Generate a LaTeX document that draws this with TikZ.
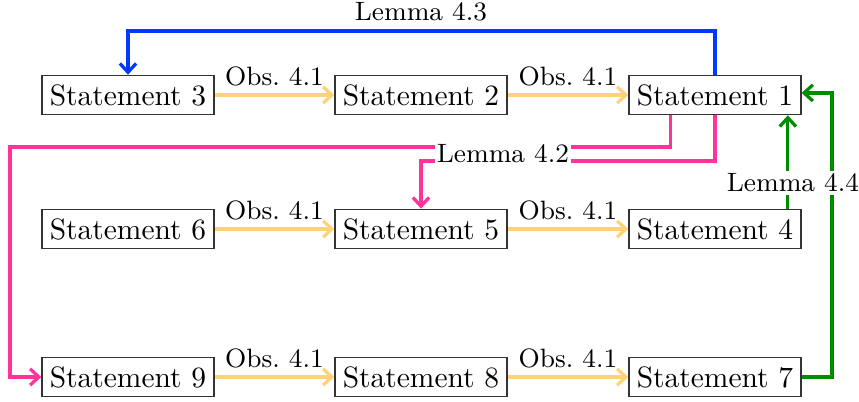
\documentclass[tikz,border=0pt]{standalone}
\usetikzlibrary{arrows.meta}
\definecolor{obsc}{RGB}{255,210,122}
\definecolor{pinkc}{RGB}{255,51,153}
\definecolor{greenc}{RGB}{0,140,0}
\definecolor{bluec}{RGB}{0,56,255}
\tikzset{
  sbox/.style={draw=black!80, line width=0.5pt, inner xsep=2.6pt, inner ysep=3pt, font=\normalsize},
  lbl/.style={font=\small},
  wlbl/.style={font=\small, fill=white, inner sep=0.8pt},
  tip/.style={-{Straight Barb[length=3pt,width=5.5pt]}},
  obsarrow/.style={draw=obsc, line width=1.1pt, tip},
  pinkarrow/.style={draw=pinkc, line width=1.1pt, tip},
  greenarrow/.style={draw=greenc, line width=1.1pt, tip},
  bluearrow/.style={draw=bluec, line width=1.1pt, tip},
}
\begin{document}
\begin{tikzpicture}[x=0.339pt,y=-0.339pt]
\useasboundingbox (0,0) rectangle (859,402);
\node[sbox] (s3) at (128,95) {Statement 3};
\node[sbox] (s2) at (421,95) {Statement 2};
\node[sbox] (s1) at (715,95) {Statement 1};
\node[sbox] (s6) at (128,229) {Statement 6};
\node[sbox] (s5) at (421,229) {Statement 5};
\node[sbox] (s4) at (715,229) {Statement 4};
\node[sbox] (s9) at (128,377) {Statement 9};
\node[sbox] (s8) at (421,377) {Statement 8};
\node[sbox] (s7) at (715,377) {Statement 7};
% Obs arrows
\draw[obsarrow] (s3) -- node[lbl, above, yshift=-1pt] {Obs.~4.1} (s2);
\draw[obsarrow] (s2) -- node[lbl, above, yshift=-1pt] {Obs.~4.1} (s1);
\draw[obsarrow] (s6) -- node[lbl, above, yshift=-1pt] {Obs.~4.1} (s5);
\draw[obsarrow] (s5) -- node[lbl, above, yshift=-1pt] {Obs.~4.1} (s4);
\draw[obsarrow] (s9) -- node[lbl, above, yshift=-1pt] {Obs.~4.1} (s8);
\draw[obsarrow] (s8) -- node[lbl, above, yshift=-1pt] {Obs.~4.1} (s7);
% Lemma 4.3
\coordinate (bt) at (715,31);
\draw[bluearrow] (s1.north) -- (bt) -| (s3.north);
\node[lbl] (l43) at (421,12) {Lemma 4.3};
% Lemma 4.2
\coordinate (pa) at (10,147);
\coordinate (pb) at (715,161);
\draw[pinkarrow] ([xshift=-15.2pt]s1.south) |- (pa) |- (s9.west);
\draw[pinkarrow] (s1.south) -- (pb) -| (s5.north);
\node[wlbl] (l42) at (503,154) {Lemma 4.2};
% Lemma 4.4
\coordinate (gc) at (832,377);
\draw[greenarrow] ([xshift=24.7pt]s4.north) -- ([xshift=24.7pt]s1.south);
\draw[greenarrow] (s7.east) -- (gc) |- ([yshift=0.7pt]s1.east);
\node[wlbl] (l44) at (793,183) {Lemma 4.4};
\end{tikzpicture}
\end{document}
